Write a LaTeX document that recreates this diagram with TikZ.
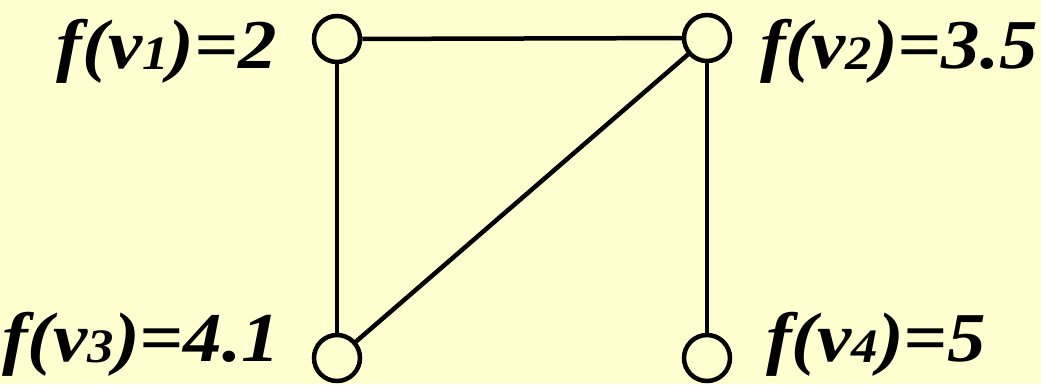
\documentclass[tikz,border=0pt]{standalone}
\usepackage{fontspec}
\newfontfamily\labfont{Liberation Serif Bold Italic}[FakeStretch=1.1]
\definecolor{bg}{RGB}{255,255,208}
\newcommand{\sbd}[1]{\raisebox{-0.02em}{\fontsize{48}{48}\selectfont #1}}
\begin{document}
\begin{tikzpicture}[x=1pt,y=-1pt,
  vtx/.style={circle,draw=black,line width=4.5pt,fill=bg,minimum size=46pt,inner sep=0pt},
  edge/.style={line width=4.5pt},
  lab/.style={font=\labfont\fontsize{70}{70}\selectfont,inner sep=0pt}]
\fill[bg] (0,0) rectangle (1041,384);
\useasboundingbox (0,0) rectangle (1041,384);
\node[vtx] (v1) at (337,39) {};
\node[vtx] (v2) at (707,38) {};
\node[vtx] (v3) at (337,358) {};
\node[vtx] (v4) at (707,358) {};
\draw[edge] (v1) -- (v2);
\draw[edge] (v1) -- (v3);
\draw[edge] (v2) -- (v3);
\draw[edge] (v2) -- (v4);
\node[lab,anchor=base east] (l1) at (277,68) {f(v\sbd{1})=2};
\node[lab,anchor=base west] (l2) at (760,68) {f(v\sbd{2})=3.5};
\node[lab,anchor=base east] (l3) at (280,361) {f(v\sbd{3})=4.1};
\node[lab,anchor=base west] (l4) at (766,361) {f(v\sbd{4})=5};
\end{tikzpicture}
\end{document}
